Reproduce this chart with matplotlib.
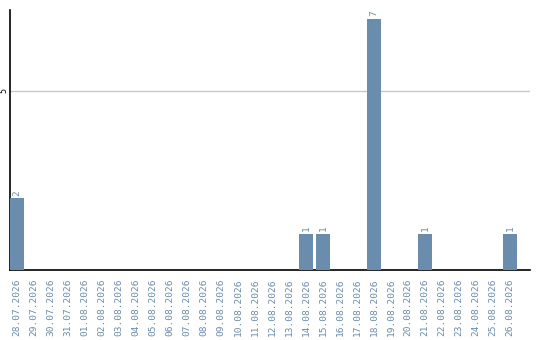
import matplotlib
matplotlib.use("Agg")
import matplotlib.pyplot as plt

dates = [
    "28.07.2026", "29.07.2026", "30.07.2026", "31.07.2026",
    "01.08.2026", "02.08.2026", "03.08.2026", "04.08.2026", "05.08.2026",
    "06.08.2026", "07.08.2026", "08.08.2026", "09.08.2026", "10.08.2026",
    "11.08.2026", "12.08.2026", "13.08.2026", "14.08.2026", "15.08.2026",
    "16.08.2026", "17.08.2026", "18.08.2026", "19.08.2026", "20.08.2026",
    "21.08.2026", "22.08.2026", "23.08.2026", "24.08.2026", "25.08.2026",
    "26.08.2026",
]
counts = [2, 0, 0, 0, 0, 0, 0, 0, 0, 0, 0, 0, 0, 0, 0, 0, 0,
          1, 1, 0, 0, 7, 0, 0, 1, 0, 0, 0, 0, 1]

bar_color = "#6a8cad"
label_color = "#6a8cad"
mono = "DejaVu Sans Mono"

fig = plt.figure(figsize=(5.4, 3.4), dpi=100)
ax = fig.add_axes([10 / 540, 70 / 340, 520 / 540, 260 / 340])

x = list(range(len(dates)))
ax.bar(x, counts, width=0.82, color=bar_color, zorder=3)

for xi, v in zip(x, counts):
    if v > 0:
        ax.text(xi, v + 0.08, str(v), rotation=90, ha="center", va="bottom",
                color=label_color, fontsize=6.8, family=mono)

ax.set_xlim(-0.41, 30.18)
ax.set_ylim(0, 7.26)

ax.set_yticks([5])
ax.set_yticklabels(["5"], rotation=90, va="center", fontsize=6, family=mono)
ax.yaxis.grid(True, color="#c8c8c8", linewidth=1, zorder=0)
ax.tick_params(axis="y", length=0, pad=1)

ax.set_xticks(x)
ax.set_xticklabels(dates, rotation=90, fontsize=6.8, family=mono, color=label_color)
ax.tick_params(axis="x", length=0, pad=6)

for side in ["top", "right"]:
    ax.spines[side].set_visible(False)
for side in ["left", "bottom"]:
    ax.spines[side].set_color("black")
    ax.spines[side].set_linewidth(1.2)

fig.savefig("out.png", dpi=100)
